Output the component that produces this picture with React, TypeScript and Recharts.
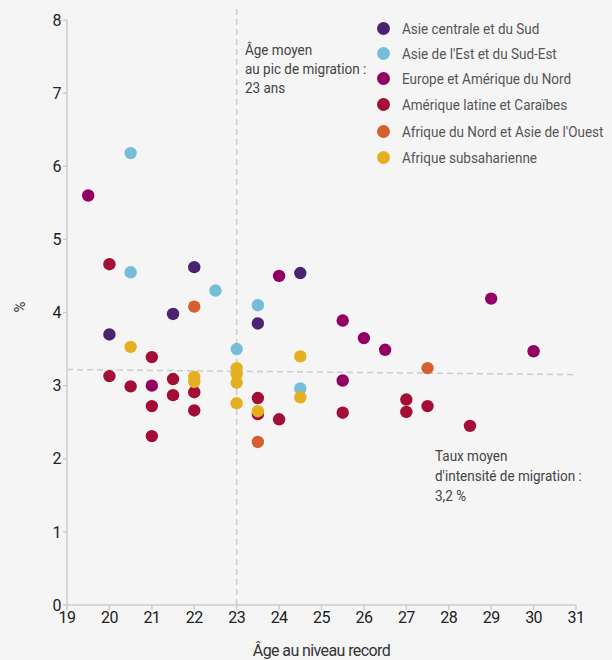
import {ScatterChart, Scatter, XAxis, YAxis, ReferenceLine} from 'recharts';

// Âge au niveau record (x) et taux d'intensité de migration en % (y), par région
const asieCentraleAge = [20, 21.5, 22, 23.5, 24.5];
const asieCentraleTaux = [3.7, 3.98, 4.62, 3.85, 4.54];

const asieEstAge = [20.5, 20.5, 22.5, 23, 23.5, 24.5];
const asieEstTaux = [6.18, 4.55, 4.3, 3.5, 4.1, 2.96];

const europeAge = [19.5, 21, 24, 25.5, 26, 26.5, 25.5, 29, 30];
const europeTaux = [5.6, 3.0, 4.5, 3.89, 3.65, 3.49, 3.07, 4.19, 3.47];

const ameriqueLatineAge = [20, 21, 20, 20.5, 21.5, 21.5, 22, 21, 22, 21, 23.5, 23.5, 24, 25.5, 27, 27, 27.5, 28.5];
const ameriqueLatineTaux = [4.66, 3.39, 3.13, 2.99, 3.09, 2.87, 2.91, 2.72, 2.66, 2.31, 2.83, 2.61, 2.54, 2.63, 2.81, 2.64, 2.72, 2.45];

const afriqueNordAge = [22, 23.5, 27.5];
const afriqueNordTaux = [4.08, 2.23, 3.24];

const afriqueSubAge = [20.5, 22, 22, 23, 23, 23, 23, 24.5, 24.5, 23.5];
const afriqueSubTaux = [3.53, 3.12, 3.05, 3.24, 3.16, 3.04, 2.76, 3.4, 2.84, 2.65];

const xTicks = [19, 20, 21, 22, 23, 24, 25, 26, 27, 28, 29, 30, 31];
const yTicks = [0, 1, 2, 3, 4, 5, 6, 7, 8];

const toPoints = (ages: number[], taux: number[]) => ages.map((x, i) => ({x, y: taux[i]}));

const series = [
    {name: 'Asie centrale et du Sud', color: '#4b2471', data: toPoints(asieCentraleAge, asieCentraleTaux)},
    {name: "Asie de l'Est et du Sud-Est", color: '#76bdd9', data: toPoints(asieEstAge, asieEstTaux)},
    {name: 'Europe et Amérique du Nord', color: '#930064', data: toPoints(europeAge, europeTaux)},
    {name: 'Amérique latine et Caraïbes', color: '#a30d36', data: toPoints(ameriqueLatineAge, ameriqueLatineTaux)},
    {name: "Afrique du Nord et Asie de l'Ouest", color: '#d4602f', data: toPoints(afriqueNordAge, afriqueNordTaux)},
    {name: 'Afrique subsaharienne', color: '#e4b020', data: toPoints(afriqueSubAge, afriqueSubTaux)},
];

const FONT = "Roboto, 'DejaVu Sans', sans-serif";
const GRID = '#cccccc';
const tickStyle = {fontFamily: FONT, letterSpacing: -0.6} as const;
// narrow the overlay text a bit, the original uses a condensed face
const narrow = {fontFamily: FONT, transform: 'scaleX(0.87)', transformOrigin: 'left top'} as const;

const Dot = (props: any) => {
    const {cx, cy, fill} = props;
    if (cx == null || cy == null) return null;
    return <circle cx={cx} cy={cy} r={6.2} fill={fill} />;
};

const LegendBox = () => (
    <div style={{position: 'absolute', left: 377, top: 16, fontFamily: FONT, fontSize: 15.5, color: '#555', whiteSpace: 'nowrap'}}>
        {series.map((s, i) => (
            <div key={s.name} style={{display: 'flex', alignItems: 'center', height: i === 3 || i === 4 ? 27 : 25}}>
                <span style={{width: 13, height: 13, borderRadius: '50%', background: s.color, marginRight: 12, flex: 'none'}} />
                <span style={{...narrow, display: 'inline-block'}}>{s.name}</span>
            </div>
        ))}
    </div>
);

const Note = ({x, y, lines, lh}: {x: number; y: number; lines: string[]; lh: number}) => (
    <div
        style={{
            ...narrow,
            position: 'absolute',
            left: x,
            top: y,
            fontSize: 15.5,
            lineHeight: `${lh}px`,
            color: '#444',
            whiteSpace: 'nowrap',
        }}
    >
        {lines.map((l) => (
            <div key={l}>{l}</div>
        ))}
    </div>
);

const App = () => {
    return (
        <div style={{position: 'absolute', left: 0, top: 0, width: 612, height: 660, background: '#f5f5f5', overflow: 'hidden'}}>
            <ScatterChart width={612} height={660} margin={{top: 20, right: 36, bottom: 5, left: 0}}>
                <XAxis
                    type='number'
                    dataKey='x'
                    domain={[19, 31]}
                    ticks={xTicks}
                    interval={0}
                    stroke={GRID}
                    strokeWidth={1.5}
                    tickSize={5}
                    height={50}
                    tick={{fill: '#222', fontSize: 16, style: tickStyle}}
                    label={{value: 'Âge au niveau record', position: 'insideBottom', offset: -1, fill: '#333', fontSize: 16, style: tickStyle}}
                />
                <YAxis
                    type='number'
                    dataKey='y'
                    domain={[0, 8]}
                    ticks={yTicks}
                    interval={0}
                    width={67}
                    stroke={GRID}
                    strokeWidth={1.5}
                    tickSize={4}
                    tick={{fill: '#222', fontSize: 16, style: tickStyle}}
                    label={{value: '%', angle: -90, position: 'insideLeft', offset: 20, fill: '#333', fontSize: 15, style: tickStyle}}
                />
                {series.map((s) => (
                    <Scatter key={s.name} name={s.name} data={s.data} fill={s.color} shape={<Dot />} isAnimationActive={false} />
                ))}
                <ReferenceLine
                    segment={[{x: 23, y: 0}, {x: 23, y: 8.16}]}
                    ifOverflow='visible'
                    stroke={GRID}
                    strokeWidth={1.5}
                    strokeDasharray='6 4'
                />
                <ReferenceLine
                    segment={[{x: 19, y: 3.22}, {x: 31, y: 3.15}]}
                    stroke={GRID}
                    strokeWidth={1.5}
                    strokeDasharray='6 4'
                />
            </ScatterChart>
            <LegendBox />
            <Note x={245} y={41} lh={19} lines={['Âge moyen', 'au pic de migration :', '23 ans']} />
            <Note x={435} y={446} lh={20} lines={['Taux moyen', "d'intensité de migration :", '3,2 %']} />
        </div>
    );
};

export default App;
